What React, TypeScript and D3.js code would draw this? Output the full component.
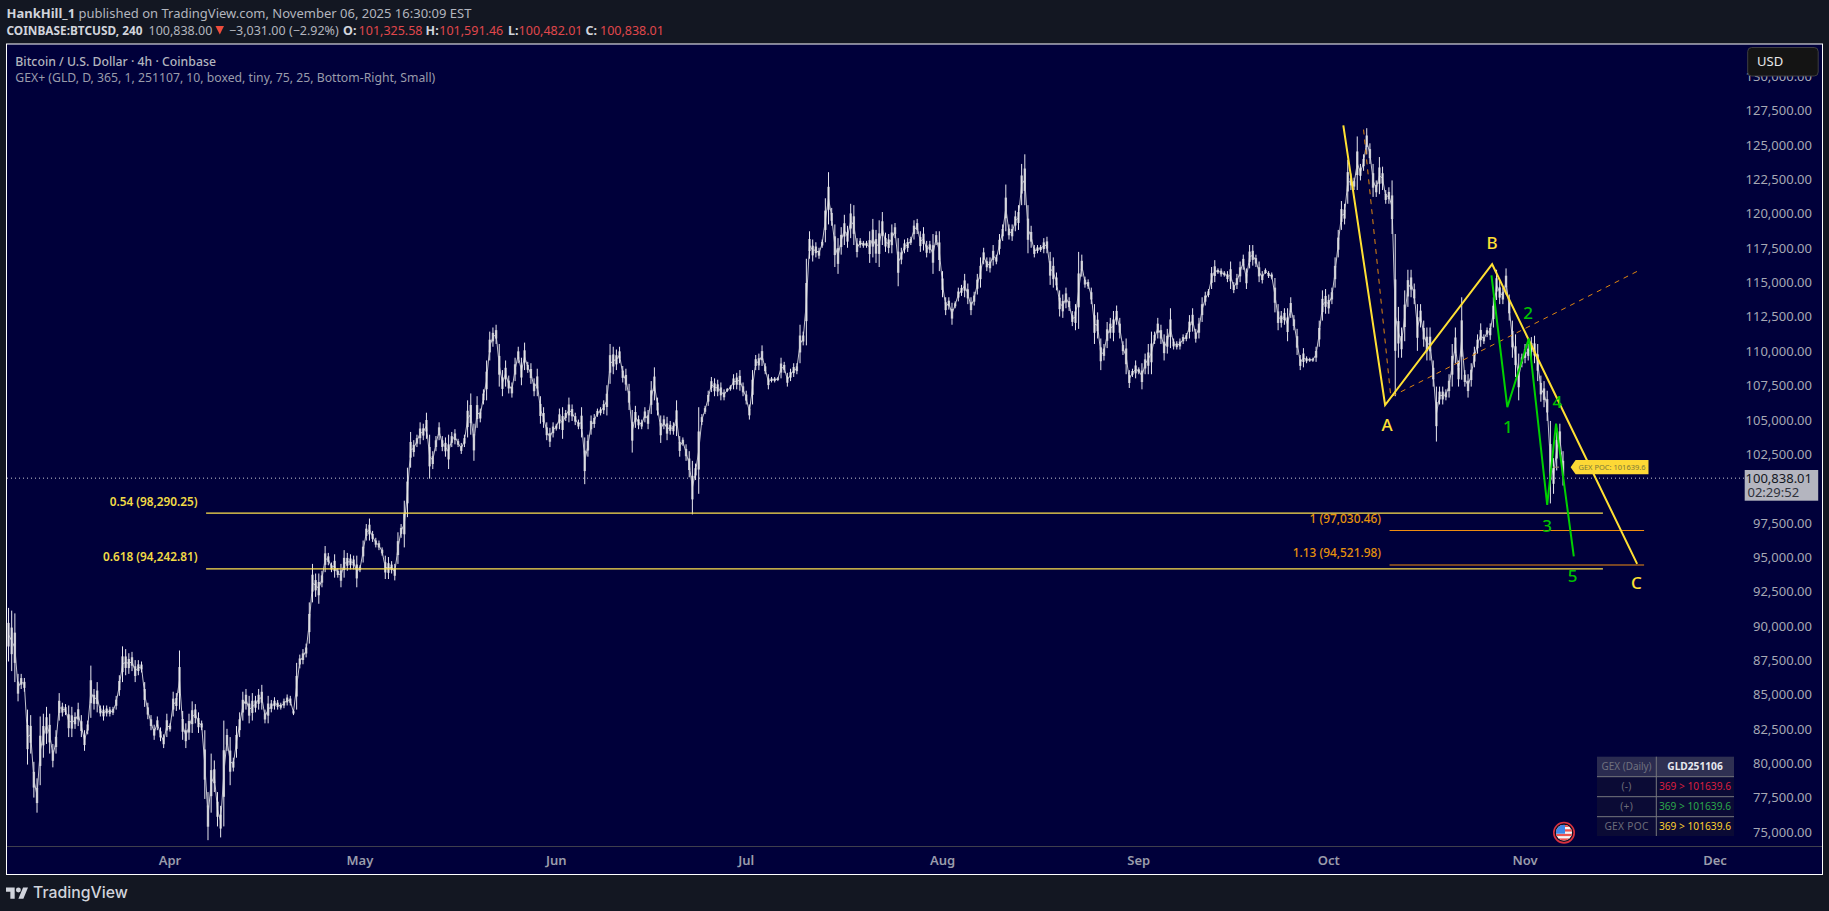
import React from "react";
import * as d3 from "d3";

// ---- 12-hour high/low columns of BTCUSD, in thousands of USD ----
const marchBars: [number, number][] = [
[91.4,87.5],[91.2,86.8],[91,86],[86.6,84.6],[86.6,85.5],[86.3,85.3],[84,80],[83.6,80.8],[80.2,77.6],[79,76.5],[83.5,78.5],[83.7,80.5],[84.2,81.5],[83.7,80.8],[81.5,79.8],[82.5,80.8],[85.2,83.2],[84.5,83.5],[84.4,83.6],[84.3,82],[84.2,82],[83.8,82.6],[84.5,82.8],[83.6,82],[82.5,81],[83.2,82.2],[87.2,83.4],[85.5,84],[86,83.8],[84.3,83.5],[84.3,83.2],[84.3,83.5],[84.2,83.5],[84.2,83.6],[85,84],[86.5,85],[88.6,86],[88.4,86.5],[88.1,86.6],[88.2,86.8],[87.6,86],[87.6,86.5],[87.5,86.7],[86,84.2],[84.5,83.3],[83.6,82.5],[82.9,81.8],[83.5,82.5],[82.7,81.7],[82.2,81.2],[83.7,82],[83,82.4],[85.3,83.5],[85.2,83.9],[88.3,84],[83.9,81.8],[83,81.2],[83.7,81.8],[84.6,82.3],[84.4,83],[83.8,82.3],[83.2,82.5]];
const aprilBars: [number, number][] = [
[82.5,77.5],[78,74.5],[80.8,76.5],[80.3,78],[78,75.5],[77,74.7],[83.2,75.5],[82.6,81],[82,78.5],[80.5,79.5],[82.8,80.5],[83.8,82],[85.3,83.2],[85.5,84],[85,83],[85.2,83.2],[85,83.8],[85.5,84],[85.8,84],[84,83],[85,83],[84.7,83.8],[84.9,84],[84.7,84],[84.5,84],[84.8,84.1],[85.1,84.3],[85,84.3],[84,83.6],[87.4,84],[88,87],[88.4,87.3],[88.8,87.8],[91.8,88.8],[94.6,91.8],[93.9,92.2],[93.9,91.7],[94.1,92.9],[95.9,94],[95.4,94.5],[94.7,94],[95.3,93.6],[94.3,93.6],[94.6,92.9],[95.6,93.6],[95.4,94.1],[95.3,94.2],[95.2,94.2],[95.2,92.9],[94.5,94],[96.3,94.7],[97.5,96.3],[97.9,96.3],[97,96.2],[96.5,95.8],[96.3,95.6],[95.8,95.2],[95.2,93.5],[95.1,93.5],[94.8,93.9],[94.6,93.4],[96.9,94.6],[97.5,96.5]];
const mayBars: [number, number][] = [
[99.2,95.8],[101.6,98],[104.2,101.6],[103.6,102.4],[104,103.1],[104.9,103.3],[104.8,103.6],[105.6,103.7],[104,100.8],[102.8,101.5],[103.9,102.8],[104.9,103.6],[103.9,102.8],[103.8,102.4],[104,101.5],[104.2,103.1],[104.4,103.3],[103.7,103.1],[103.4,102.6],[104,103.1],[106.5,103.8],[107,104],[104.8,102.1],[106.8,104.5],[105.9,104.9],[107.3,106.2],[109.4,106.5],[111.5,109.4],[111.8,110.4],[112,110.6],[110.6,107.5],[108.7,106.8],[109.4,107.5],[108.3,107],[107.8,106.7],[109.6,107.9],[110.4,109.2],[109.6,107.6],[110.7,108.7],[109.3,108.5],[109.2,107.7],[108.1,106.8],[108.8,106.8],[106.8,104.8],[106,104.5],[104.9,103.6],[104.5,103.1],[104.9,103.8],[104.8,104.3],[105.9,104.4],[106,103.7],[105.8,105],[106.7,104.9],[106.2,105],[105.6,104.7],[105.1,104.4],[106,103.8],[103.8,100.4],[104,102.4],[105.4,104],[105.5,104.5],[105.9,105.3],[106,105.4]];
const juneBars: [number, number][] = [
[106.5,105.5],[107.6,105.4],[110.6,107.7],[110.4,108.4],[110.2,108.7],[110.4,109.2],[109,107.8],[108.8,107.2],[107.7,105.8],[105.8,102.7],[106.1,104.5],[105.4,104.4],[105.1,104.4],[106,104.9],[105.8,104.4],[107.9,105.5],[108.9,106.5],[106.7,105.4],[105.4,103.4],[105.4,104.4],[105.3,103.6],[105,104],[104.9,104],[106.5,103.9],[103.9,102.4],[103.8,103.2],[103.3,102.1],[102.8,100.9],[102.1,98.2],[101.9,100.7],[106,99.7],[105.5,104.7],[106.1,105.5],[107.2,106.1],[108.2,107.1],[108.1,106.8],[108,106.8],[107.8,106.5],[107.3,106.5],[107.4,107.1],[107.6,107.2],[108.4,107.3],[108.5,107.3],[108.7,107.2],[107.8,106.8],[107.2,106.2],[106.2,105.1],[108.7,106.2],[109.8,108.7],[109.9,108.7],[110.5,109],[109.2,108.4],[108.4,107.3],[108.2,107.8],[108.2,107.8],[108.2,107.9],[109.6,108.1],[109.3,108.5],[108.5,107.5],[108.8,107.9],[109.2,108.2],[109.2,108.4],[112,109.2],[111.5,110.5]];
const julyBars: [number, number][] = [
[116.8,110.5],[118.8,116.8],[118.2,116.6],[118,116.9],[117.6,116.8],[118.2,117.6],[121.2,118],[123.1,119.3],[120.5,119.2],[119.3,116.2],[118.3,115.7],[119.1,117.1],[120,117.8],[119.2,117.6],[120.8,118.3],[120.7,117.8],[118.3,116.9],[118.3,117.6],[118.1,117.6],[118.1,117.6],[118.8,116.5],[119.7,116.9],[118.9,116.5],[119.6,116.2],[120.2,117.8],[118.7,117.3],[118.6,117.2],[119.3,117.2],[119.4,118.3],[118.3,114.8],[117.6,116.4],[118.2,117.2],[118.3,117.3],[118.4,117.8],[119.6,118.2],[119.7,118.6],[118.8,117.3],[119.1,117.4],[118.1,116.9],[118.1,117.2],[118.6,115.7],[118.8,117.8],[118.8,115.9],[115.9,114],[114,112.7],[114,113.1],[113.6,112],[113.7,113.2],[114.7,113.7],[114.9,114.1],[115.7,114],[115,113.5],[114,112.7],[114.4,113.4],[115.7,114.2],[116.9,114.7]];
const augustBars: [number, number][] = [
[117.6,116.4],[116.9,115.9],[116.9,115.8],[117.8,116.3],[117.1,116.4],[118.6,117.1],[119.3,118.1],[122.2,118.8],[119.3,118.2],[119.3,118.1],[120.3,118.8],[120.7,118.9],[123.7,120.7],[124.4,120.7],[120.7,117.2],[119.2,117.6],[117.8,116.9],[117.8,117.2],[117.8,117.3],[118.3,117.2],[118.4,117.2],[117.3,114.9],[116.9,114.7],[115.8,114.5],[114.5,112.6],[114.2,112.5],[114.7,113.2],[114,113],[113,111.9],[113.5,111.6],[117.3,111.7],[117.1,115.5],[115.5,114.7],[115.3,114.6],[114.7,113.5],[113.5,110.6],[112.9,111],[111,108.7],[110.6,109.4],[112.2,110.3],[112.5,111],[113,110.8],[113.4,112],[112.5,111],[110.8,109.8],[111,108.4],[108.7,107.4],[108.8,108.2],[109.4,108.1],[108.9,108.4],[109.2,107.3]];
const septemberBars: [number, number][] = [
[109.9,108.4],[110.6,108.4],[111.5,108.4],[111.5,110.6],[112.5,111],[112,110.6],[111.3,109.4],[111.7,109.9],[113.2,110.3],[111,110.2],[110.8,110.2],[111,110.2],[111.3,110.6],[111.4,110.8],[112.7,111],[113.2,111.5],[111.7,110.7],[112.5,111],[114,112.2],[114.4,113.4],[114.6,114],[116.2,114.6],[116.7,115.1],[116.1,115.7],[116.1,115.5],[115.9,115.5],[115.9,115.1],[116.6,114.6],[115.1,114.3],[115.7,114.6],[116.6,115.1],[117.1,116],[116.1,114.6],[117.8,116.1],[117.8,116.3],[117.1,116.2],[116.6,115.1],[115.9,115],[116.1,115.7],[115.9,115.4],[115.8,115.3],[115.4,112.9],[113.5,111.6],[113,111.8],[113.2,112],[113.2,110.8],[114,112.5],[112.7,111.6],[111.7,109.8],[109.8,108.7],[110.3,108.9],[109.7,109.2],[109.6,109.3],[109.6,109.3],[110.4,109.3],[112.3,110.4]];
const octoberBars: [number, number][] = [
[114.5,112.3],[114.6,112.8],[114.2,112.8],[114.7,113.5],[116.9,114.7],[118.9,116.9],[121,118.9],[120.8,119.3],[124,120.8],[123,121.8],[122.7,121.8],[125.7,121.8],[123.7,122.5],[124.4,123.2],[126.3,124.4],[125.2,123.7],[123.7,121.3],[122.5,121.3],[124.2,121.5],[123.5,121.8],[121.8,120.8],[122,120.8],[122.5,118.6],[118.6,106.8],[113.3,109.6],[111.8,109.6],[114.5,110.8],[116,113.3],[116,114],[115,113.5],[113.5,110.1],[113.5,111.8],[112.3,110.4],[111.8,109.4],[111.8,109.4],[109.4,107.5],[107.5,103.5],[107.5,106.2],[107.5,106.2],[107.3,106.5],[108.4,106.7],[110.6,107.5],[111.8,109.2],[109.4,107.5],[114,108],[108.7,107.5],[108.4,106.7],[109.2,107.5],[110.4,108.9],[111.3,109.9],[112.1,110.4],[111.3,110.6],[111.8,111.1],[112.1,110.9],[114,111.8],[116,113.8],[115.2,113.5],[114.7,113.5],[116.1,114.2],[114.2,112.3],[112.3,109.6]];
const novemberBars: [number, number][] = [
[111.3,108.2],[109.9,106.5],[109.9,108.9],[110.6,109.2],[110.6,109.4],[111.1,109.6],[111.2,109.2],[110.6,107.9],[108.3,106.4],[107.9,106],[107.2,105],[105,99],[102.3,99.7],[104.5,101.4],[104.8,102.8],[102.8,100.3]];

const priceTicks = d3.range(75000, 130001, 2500).filter((v) => v !== 100000);
const monthTicks: [string, number, number][] = [["Apr",2025,3],["May",2025,4],["Jun",2025,5],["Jul",2025,6],["Aug",2025,7],["Sep",2025,8],["Oct",2025,9],["Nov",2025,10],["Dec",2025,11]];

const abcDays = [185.3, 191.9, 208.8, 231.7];
const abcPrices = [126500, 106160, 116400, 94600];
const guideDays = [188.5, 192.8, 232.2];
const guidePrices = [126200, 106750, 116000];
const waveDays = [208.7, 211.2, 214.6, 217.5, 218.9, 221.7];
const wavePrices = [115600, 106000, 111000, 98900, 104800, 95150];

const waveLabels: [string, number, number][] = [["1",211.3,104600],["2",214.5,112850],["3",217.5,97400],["4",219.1,106400],["5",221.5,93700]];
const abcLabels: [string, number, number][] = [["A",192.2,104700],["B",208.8,117950],["C",231.6,93200]];

const fibLevels: [string, number][] = [["0.54 (98,290.25)", 98290.25],["0.618 (94,242.81)", 94242.81]];
const extLevels: [string, number][] = [["1 (97,030.46)", 97030.46],["1.13 (94,521.98)", 94521.98]];

const lastPrice = 100838.01;
const pocPrice = 101639.6;

const tableRows: [string, string, string][] = [["(-)", "369 > 101639.6", "#dc1f3e"],["(+)", "369 > 101639.6", "#2ea84a"],["GEX POC", "369 > 101639.6", "#ffd22e"]];

const T0 = Date.UTC(2025, 2, 6);
const D = 864e5;
const FONT = "'Noto Sans', sans-serif";

export default function App() {
  const x = d3.scaleUtc().domain([new Date(Date.UTC(2025,3,1)), new Date(Date.UTC(2025,11,1))]).range([170, 1715]);
  const y = d3.scaleLinear().domain([75000, 127500]).range([833.3, 111.7]);
  const dayX = (d: number) => x(new Date(Date.UTC(2025,3,1) + d * D));
  const bars = [...marchBars, ...aprilBars, ...mayBars, ...juneBars, ...julyBars, ...augustBars, ...septemberBars, ...octoberBars, ...novemberBars];
  const colX = (i: number) => x(new Date(T0 + (i + 1) * D / 2));
  const poly = (ds: number[], ps: number[]) => d3.line()(ds.map((d, i) => [dayX(d), y(ps[i])] as [number, number])) as string;
  const midLine = d3.line<[number, number]>().x((_, i) => colX(i)).y((b) => y((b[0] + b[1]) * 500))(bars) as string;
  const axisC = "#a6a8b4";
  const flagStripes = [0,1,2,3,4,5,6];
  return (
    <svg width={1829} height={911} style={{ position: "fixed", left: 0, top: 0, background: "#131722" }} fontFamily={FONT}>
      <defs>
        <clipPath id="pane"><rect x={7} y={45} width={1815} height={800} /></clipPath>
        <clipPath id="flag"><circle cx={1564} cy={832.7} r={8} /></clipPath>
      </defs>
      <text x={6.5} y={17.5} fontSize={13} fill="#b2b5be"><tspan fontWeight={700} fill="#d1d4dc">HankHill_1</tspan> published on TradingView.com, November 06, 2025 16:30:09 EST</text>
      <g fontSize={12.5} fill="#b2b5be">
        <text x={6.5} y={35} fontWeight={700} fill="#d1d4dc" textLength={136} lengthAdjust="spacingAndGlyphs">COINBASE:BTCUSD, 240</text>
        <text x={148.5} y={35}>100,838.00</text>
        <path d={`M215.5 26 L224 26 L219.8 34.5 Z`} fill="#ef4c3c" />
        <text x={228.9} y={35}>−3,031.00 (−2.92%)</text>
        <text x={343} y={35} fontWeight={700} fill="#d1d4dc">O:</text>
        <text x={358.6} y={35} fill="#e0474c">101,325.58</text>
        <text x={425.6} y={35} fontWeight={700} fill="#d1d4dc">H:</text>
        <text x={439.3} y={35} fill="#e0474c">101,591.46</text>
        <text x={508} y={35} fontWeight={700} fill="#d1d4dc">L:</text>
        <text x={518.6} y={35} fill="#e0474c">100,482.01</text>
        <text x={585.5} y={35} fontWeight={700} fill="#d1d4dc">C:</text>
        <text x={600} y={35} fill="#e0474c">100,838.01</text>
      </g>

      <rect x={6.5} y={44} width={1816} height={830.5} fill="#00003a" stroke="#ffffff" strokeWidth={1} />
      <line x1={7} x2={1822} y1={846.5} y2={846.5} stroke="#3f3f4d" />

      <text x={15.3} y={65.5} fontSize={12.5} fontWeight={500} fill="#b2b5be" textLength={200.7} lengthAdjust="spacingAndGlyphs">Bitcoin / U.S. Dollar · 4h · Coinbase</text>
      <text x={15.3} y={82} fontSize={12.5} fill="#9a9cab" textLength={420} lengthAdjust="spacingAndGlyphs">GEX+ (GLD, D, 365, 1, 251107, 10, boxed, tiny, 75, 25, Bottom-Right, Small)</text>

      <line x1={7} x2={1744} y1={y(lastPrice)} y2={y(lastPrice)} stroke="#c8cad4" strokeDasharray="1 3" />

      <g clipPath="url(#pane)">
        <path d={midLine} fill="none" stroke="#c4c5cf" strokeWidth={1} />
        {bars.map(([hi, lo], i) => {
          const px = colX(i);
          const yh = y(hi * 1000), yl = y(lo * 1000);
          const inset = (yl - yh) * 0.28;
          return (
            <g key={i}>
              <rect x={px - 1.2} y={yh + inset} width={2.4} height={Math.max(1, yl - yh - 2 * inset)} fill="#b4b5bf" />
              <line x1={px} x2={px} y1={yh} y2={yl} stroke="#e8e8ee" strokeWidth={1} />
            </g>
          );
        })}
      </g>

      {fibLevels.map(([t, v]) => (
        <g key={t}>
          <line x1={dayX(5.7)} x2={dayX(226.3)} y1={y(v)} y2={y(v)} stroke="#ffe24d" strokeWidth={1.2} />
          <text x={197.7} y={y(v) - 7.5} textAnchor="end" fontSize={11.8} fontWeight={600} fill="#f2dc45">{t}</text>
        </g>
      ))}
      {extLevels.map(([t, v]) => (
        <g key={t}>
          <line x1={dayX(192.6)} x2={dayX(232.8)} y1={y(v)} y2={y(v)} stroke="#f08c10" strokeWidth={1.2} />
          <text x={1381} y={y(v) - 7.5} textAnchor="end" fontSize={11.9} fontWeight={500} fill="#e8920c">{t}</text>
        </g>
      ))}

      <path d={poly(guideDays, guidePrices)} fill="none" stroke="#e0860f" strokeWidth={1} strokeDasharray="5 5" />
      <path d={poly(abcDays, abcPrices)} fill="none" stroke="#ffe033" strokeWidth={2} />
      <path d={poly(waveDays, wavePrices)} fill="none" stroke="#00d000" strokeWidth={2} />
      {abcLabels.map(([t, d, p]) => (
        <text key={t} x={dayX(d)} y={y(p)} dy="0.36em" textAnchor="middle" fontSize={17} fontWeight={500} fill="#ffe033">{t}</text>
      ))}
      {waveLabels.map(([t, d, p]) => (
        <text key={t} x={dayX(d)} y={y(p)} dy="0.36em" textAnchor="middle" fontSize={17} fontWeight={500} fill="#00c400">{t}</text>
      ))}

      <line x1={1553} x2={1559} y1={y(pocPrice)} y2={y(pocPrice)} stroke="#a08a70" />
      <path d={`M1570.6 ${y(pocPrice)} L1575.6 ${y(pocPrice) - 7.2} H1648.5 V${y(pocPrice) + 7.2} H1575.6 Z`} fill="#fdd835" />
      <text x={1612} y={y(pocPrice)} dy="0.35em" textAnchor="middle" fontSize={7.5} fill="#7d7a3a">GEX POC: 101639.6</text>

      {priceTicks.map((v) => (
        <text key={v} x={1812} y={y(v) - 1} dy="0.35em" textAnchor="end" fontSize={13} fill={axisC}>{d3.format(",.2f")(v)}</text>
      ))}
      {monthTicks.map(([t, yr, m]) => (
        <text key={t} x={x(new Date(Date.UTC(yr, m, 1)))} y={864.5} textAnchor="middle" fontSize={13} fontWeight={600} fill="#9a9cab">{t}</text>
      ))}

      <rect x={1744.7} y={470} width={73.5} height={30.7} fill="#b4b5bf" />
      <text x={1812} y={483} textAnchor="end" fontSize={13} fill="#131722">{d3.format(",.2f")(lastPrice)}</text>
      <text x={1747.5} y={497} fontSize={13} fill="#30323c">02:29:52</text>

      <rect x={1747.7} y={47.5} width={70.5} height={28.5} rx={4} fill="#141414" stroke="#3e3e42" />
      <text x={1757} y={65.5} fontSize={13} fill="#e8e8ea">USD</text>

      {/* GEX table */}
      <g fontSize={10.2}>
        <rect x={1597} y={756.7} width={59.3} height={20} fill="#2a2b50" />
        <rect x={1656.3} y={756.7} width={77.7} height={20} fill="#2f3052" />
        <rect x={1597} y={776.7} width={137} height={59.3} fill="#0b0b35" />
        {[776.7, 796.7, 816.7].map((v) => <line key={v} x1={1597} x2={1734} y1={v} y2={v} stroke="#77787e" />)}
        <line x1={1656.3} x2={1656.3} y1={756.7} y2={836} stroke="#77787e" />
        <text x={1626.6} y={766.7} dy="0.35em" textAnchor="middle" fill="#70717f" textLength={50} lengthAdjust="spacingAndGlyphs">GEX (Daily)</text>
        <text x={1695} y={766.7} dy="0.35em" textAnchor="middle" fontWeight={700} fill="#e8e8ee">GLD251106</text>
        {tableRows.map(([a, b, c], i) => (
          <g key={a}>
            <text x={1626.6} y={786.7 + i * 20} dy="0.35em" textAnchor="middle" fill="#6b6c7a" letterSpacing={0.3}>{a}</text>
            <text x={1695} y={786.7 + i * 20} dy="0.35em" textAnchor="middle" fill={c}>{b}</text>
          </g>
        ))}
      </g>

      {/* event flag */}
      <circle cx={1564} cy={832.7} r={10.2} fill="#101025" stroke="#d8303e" strokeWidth={1.6} />
      <g clipPath="url(#flag)">
        <rect x={1556} y={824.7} width={16} height={16} fill="#f4f4f8" />
        {flagStripes.filter((s) => s % 2 === 0).map((s) => <rect key={s} x={1556} y={824.7 + s * 16 / 7} width={16} height={16 / 7} fill="#ef5350" />)}
        <rect x={1556} y={824.7} width={9} height={9} fill="#3d86e8" />
      </g>

      {/* logo */}
      <g transform="translate(6,885) scale(0.62)" fill="#d1d4dc">
        <path d="M14 22H7V11H0V4h14v18zM28 22h-8l7.5-18h8L28 22z" />
        <circle cx={20} cy={8} r={4} />
      </g>
      <text x={33} y={898} fontSize={15.8} fontWeight={500} fontFamily="Inter, 'Noto Sans', sans-serif" fill="#d1d4dc">TradingView</text>
    </svg>
  );
}
